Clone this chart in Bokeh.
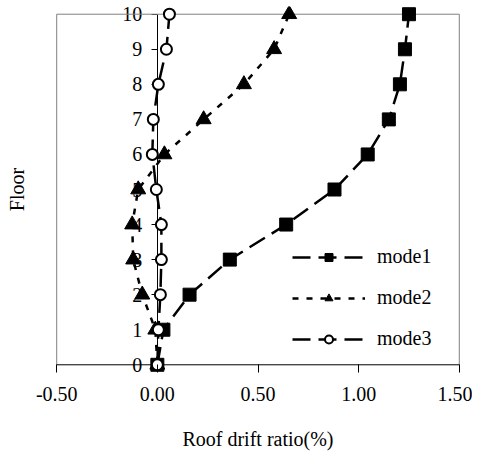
from bokeh.plotting import figure
from bokeh.models import LinearAxis, Range1d, FixedTicker, Legend, LegendItem
from bokeh.embed import file_html
from bokeh.resources import INLINE

floors = [0, 1, 2, 3, 4, 5, 6, 7, 8, 9, 10]
mode1 = [0.0, 0.03, 0.16, 0.36, 0.64, 0.88, 1.045, 1.15, 1.205, 1.23, 1.25]
mode2 = [0.0, -0.01, -0.075, -0.12, -0.125, -0.095, 0.035, 0.23, 0.43, 0.58, 0.655]
mode3 = [0.0, 0.005, 0.015, 0.02, 0.02, -0.005, -0.025, -0.02, 0.005, 0.045, 0.06]
x_ticks = [-0.5, 0.0, 0.5, 1.0, 1.5]
x_tick_labels = {-0.5: "-0.50", 0.0: "0.00", 0.5: "0.50", 1.0: "1.00", 1.5: "1.50"}

FONT = "Liberation Serif"
FS = "20px"
BORDER = "#808080"

# small padding so markers at floor 0 / 10 and frame borders are not clipped
xpad = 0.006
ypad = 0.22
p = figure(width=472, height=452, output_backend="svg", toolbar_location=None,
           x_range=Range1d(x_ticks[0] - xpad, x_ticks[-1] + xpad),
           y_range=Range1d(floors[0] - ypad, floors[-1] + ypad),
           x_axis_location=None, y_axis_location=None,
           min_border_left=55, min_border_right=12, min_border_top=6, min_border_bottom=80)
p.xgrid.visible = False
p.ygrid.visible = False
p.outline_line_color = None
p.background_fill_color = "white"
p.border_fill_color = "white"

# frame borders (gray) drawn between floor 0 and floor 10
p.segment(x0=[x_ticks[0], x_ticks[-1]], y0=[floors[0], floors[0]],
          x1=[x_ticks[0], x_ticks[-1]], y1=[floors[-1], floors[-1]],
          line_color=BORDER, line_width=1)
p.segment(x0=[x_ticks[0]], y0=[floors[-1]], x1=[x_ticks[-1]], y1=[floors[-1]],
          line_color=BORDER, line_width=1)
# x axis line at floor 0
p.segment(x0=[x_ticks[0]], y0=[floors[0]], x1=[x_ticks[-1]], y1=[floors[0]],
          line_color="black", line_width=1)

xa = LinearAxis(ticker=FixedTicker(ticks=x_ticks), axis_label="Roof drift ratio(%)")
xa.major_label_overrides = x_tick_labels
xa.major_tick_out = 0
xa.major_tick_in = 8
xa.major_tick_line_color = "black"
xa.minor_tick_line_color = None
xa.axis_line_color = None
xa.major_label_text_font = FONT
xa.major_label_text_font_size = FS
xa.major_label_text_color = "black"
xa.axis_label_text_font = FONT
xa.axis_label_text_font_size = FS
xa.axis_label_text_font_style = "normal"
xa.axis_label_text_color = "black"
xa.major_label_standoff = 14
xa.axis_label_standoff = 24
p.add_layout(xa, "below")

# left axis used only for the "Floor" label
la = LinearAxis(ticker=FixedTicker(ticks=[]), axis_label="Floor")
la.axis_line_color = None
la.major_tick_line_color = None
la.minor_tick_line_color = None
la.major_tick_out = 0
la.major_tick_in = 0
la.axis_label_text_font = FONT
la.axis_label_text_font_size = FS
la.axis_label_text_font_style = "normal"
la.axis_label_text_color = "black"
la.axis_label_standoff = 28
p.add_layout(la, "left")

ya = LinearAxis(ticker=FixedTicker(ticks=floors), fixed_location=0, bounds=(floors[0], floors[-1]))
ya.major_tick_out = 6
ya.major_tick_in = 0
ya.major_tick_line_color = "black"
ya.minor_tick_line_color = None
ya.axis_line_color = "black"
ya.major_label_text_font = FONT
ya.major_label_text_font_size = FS
ya.major_label_text_color = "black"
ya.major_label_standoff = 9
ya.level = "underlay"
p.add_layout(ya, "left")

r1 = p.line(mode1, floors, line_color="black", line_width=2.5, line_dash="18 8")
m1 = p.scatter(mode1, floors, marker="square", size=13, fill_color="black", line_color="black")
r2 = p.line(mode2, floors, line_color="black", line_width=2.5, line_dash="6 8")
m2 = p.scatter(mode2, floors, marker="triangle", size=15, fill_color="black", line_color="black")
r3 = p.line(mode3, floors, line_color="black", line_width=2.5, line_dash="18 8")
m3 = p.scatter(mode3, floors, marker="circle", size=11, fill_color="white", line_color="black", line_width=2)

legend = Legend(items=[LegendItem(label="mode1", renderers=[r1, m1]),
                       LegendItem(label="mode2", renderers=[r2, m2]),
                       LegendItem(label="mode3", renderers=[r3, m3])],
                location=(237, 22), border_line_color=None, background_fill_alpha=0,
                padding=0, margin=0, spacing=18, glyph_width=73, glyph_height=20,
                label_height=20, label_standoff=12,
                label_text_font=FONT, label_text_font_size=FS, label_text_color="black")
p.add_layout(legend)

open("out.html", "w").write(file_html(p, INLINE))
